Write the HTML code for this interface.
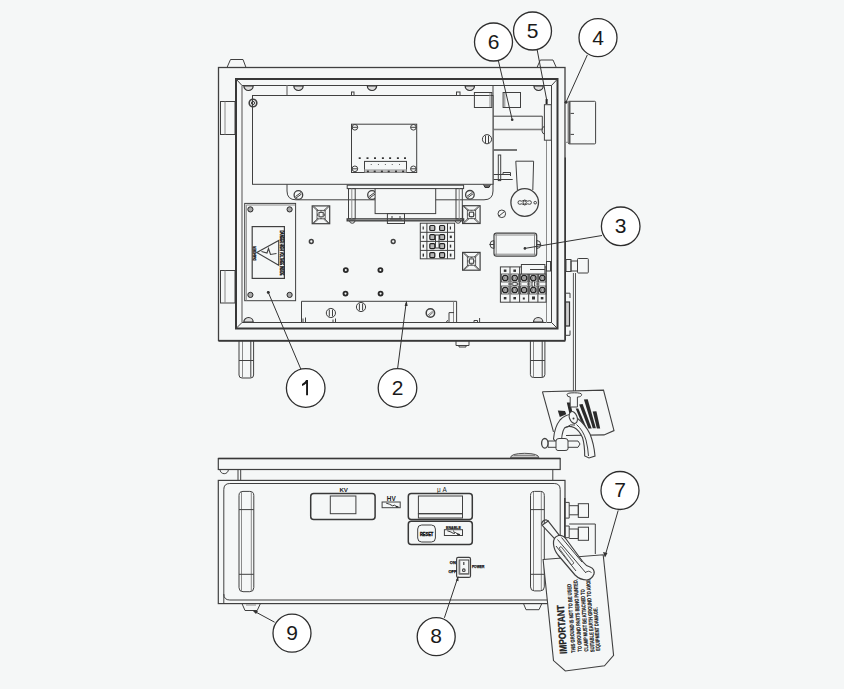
<!DOCTYPE html>
<html><head><meta charset="utf-8">
<style>
html,body{margin:0;padding:0;background:#f5f7f7;width:844px;height:689px;overflow:hidden}
svg{display:block}
.k{fill:none;stroke:#404040;stroke-width:1}
.t{fill:none;stroke:#383838;stroke-width:2}
.g{fill:none;stroke:#8a8a8a;stroke-width:1}
.d{fill:#333}
.cn{fill:#fff;stroke:#2e2e2e;stroke-width:1.3}
.num{font-family:"Liberation Sans",sans-serif;font-size:21px;fill:#1a1a1a;text-anchor:middle}
.sm{font-family:"Liberation Sans",sans-serif;font-weight:bold;fill:#222;text-anchor:middle}
</style></head>
<body>
<svg width="844" height="689" viewBox="0 0 844 689">
<g id="top">
<!-- hinges top -->
<path class="k" d="M227 67.5 L230.5 59.5 L243 59.5 L246 67.5"/>
<path class="k" d="M537 67.5 L540.3 60 L553 60 L556.3 67.5"/>
<!-- outer box -->
<rect class="k" x="218.5" y="67.5" width="346.5" height="273" style="stroke-width:1.3"/>
<!-- left hinges -->
<rect class="k" x="220.5" y="101.5" width="14.5" height="33"/>
<line class="g" x1="225" y1="101.5" x2="225" y2="134.5"/>
<rect class="k" x="220.5" y="270.5" width="14.5" height="32.5"/>
<line class="g" x1="225" y1="270.5" x2="225" y2="303"/>
<!-- inner frame -->
<rect class="t" x="236" y="79" width="321.5" height="249.5"/>
<path class="k" d="M242 85.5 H551.5 V322.5 H242"/><line class="g" x1="242" y1="85.5" x2="242" y2="322.5" style="stroke:#777;stroke-width:1.3"/>
<line class="k" x1="236" y1="79" x2="242" y2="85.5"/>
<line class="k" x1="557.5" y1="79" x2="551.5" y2="85.5"/>
<line class="k" x1="236" y1="328.5" x2="242" y2="322.5"/>
<line class="k" x1="557.5" y1="328.5" x2="551.5" y2="322.5"/>
<!-- legs -->
<path class="k" d="M456 341 V345.5 H469 V341 M459 345.5 V347 H466 V345.5"/>
<path class="k" d="M239 341 V375 Q239 378 242 378 H250.6 Q253.6 378 253.6 375 V341"/>
<line class="g" x1="242.5" y1="341" x2="242.5" y2="377.5"/>
<line class="k" x1="250.8" y1="341" x2="250.8" y2="377.5"/>
<line class="k" x1="239" y1="360.5" x2="253.6" y2="360.5"/>
<path class="k" d="M530.4 341 V374.5 Q530.4 377.5 533.4 377.5 H541.9 Q544.9 377.5 544.9 374.5 V341"/>
<line class="g" x1="533.5" y1="341" x2="533.5" y2="377"/>
<line class="k" x1="542.2" y1="341" x2="542.2" y2="377"/>
<line class="k" x1="530.4" y1="360.5" x2="544.9" y2="360.5"/>
<line class="t" x1="218.5" y1="340.8" x2="565.3" y2="340.8" style="stroke-width:1.8"/>
<!-- back bracket -->
<path class="k" d="M287 95.5 V191 Q287 199.8 296 199.8 H484 Q493 199.8 493 191 V85.5"/><line class="g" x1="287" y1="85.5" x2="287" y2="95.5" style="stroke-width:1.5"/>
<!-- main panel -->
<rect class="k" x="252.5" y="95.5" width="240.5" height="88.8" style="fill:#f5f7f7"/>

<!-- frame screws top -->
<g class="k" style="fill:#ddd;stroke:#333;stroke-width:1.2">
<path d="M243.8 85.8 A4.7 4.7 0 0 0 253.2 85.8Z"/><path d="M293.8 85.8 A4.7 4.7 0 0 0 303.2 85.8Z"/>
<path d="M367.3 85.8 A4.7 4.7 0 0 0 376.7 85.8Z"/><path d="M465.1 85.8 A4.7 4.7 0 0 0 474.5 85.8Z"/>
<path d="M533.9 85.8 A4.7 4.7 0 0 0 543.3 85.8Z"/>
<path d="M243.8 322.2 A4.7 4.7 0 0 1 253.2 322.2Z"/><path d="M533.5 322.2 A4.7 4.7 0 0 1 542.9 322.2Z"/>
</g>
<!-- panel screw top-left -->
<circle class="k" cx="253" cy="103" r="3.8" style="stroke-width:1.6"/><circle class="k" cx="253" cy="103" r="1.6"/>
<!-- small tabs -->
<rect class="k" x="351.5" y="92" width="2.5" height="3.5"/>
<rect class="k" x="456.5" y="92" width="3.5" height="3.5"/>
<!-- PCB -->
<rect class="k" x="351.5" y="124.2" width="65.2" height="48.3"/>
<g class="k">
<circle cx="354.9" cy="127.3" r="2.8"/><circle cx="413.4" cy="127.3" r="2.8"/>
<circle cx="354.9" cy="168.8" r="2.8"/><circle cx="413.4" cy="168.8" r="2.8"/>
<line x1="352.1" y1="127.3" x2="357.7" y2="127.3"/><line x1="410.6" y1="127.3" x2="416.2" y2="127.3"/>
<line x1="352.1" y1="168.8" x2="357.7" y2="168.8"/><line x1="410.6" y1="168.8" x2="416.2" y2="168.8"/>
</g>
<rect class="k" x="364.5" y="161.4" width="42" height="11.1"/>
<rect x="364.5" y="169.2" width="42" height="3.4" style="fill:#b5b5b5"/><rect x="366.9" y="170.6" width="2" height="1.6" style="fill:#333"/><rect x="373.7" y="170.6" width="2" height="1.6" style="fill:#333"/><rect x="380.9" y="170.6" width="2" height="1.6" style="fill:#333"/><rect x="387.7" y="170.6" width="2" height="1.6" style="fill:#333"/><rect x="395" y="170.6" width="2" height="1.6" style="fill:#333"/><rect x="402.1" y="170.6" width="2" height="1.6" style="fill:#333"/>
<g class="d">
<rect x="358.7" y="157.3" width="2" height="1.7"/><rect x="366.5" y="157.3" width="2" height="1.7"/>
<rect x="374.0" y="157.3" width="2" height="1.7"/><rect x="381.9" y="157.3" width="2" height="1.7"/>
<rect x="389.1" y="157.3" width="2" height="1.7"/><rect x="396.9" y="157.3" width="2" height="1.7"/>
<rect x="404.0" y="157.3" width="2" height="1.7"/>
<circle cx="371.2" cy="164.6" r=".5"/><circle cx="378.4" cy="164.6" r=".5"/><circle cx="385.3" cy="164.6" r=".5"/>
<circle cx="392.2" cy="164.6" r=".5"/><circle cx="399.5" cy="164.6" r=".5"/>
</g>
<!-- components top right of panel -->
<rect class="k" x="474.4" y="92.5" width="17.4" height="15"/>
<line class="g" x1="490" y1="93" x2="490" y2="107"/>
<rect class="k" x="503.1" y="92.5" width="17.4" height="15"/>
<line class="g" x1="504.8" y1="93" x2="504.8" y2="107"/>
<!-- component 6 bar -->
<path class="k" d="M493.5 116.2 H542.3 V129.3 H493.5"/>
<line class="g" x1="493.5" y1="129.8" x2="542.3" y2="129.8"/>
<!-- screw right of panel -->
<circle class="k" cx="487" cy="139.2" r="4.6"/>
<line class="k" x1="485.5" y1="135.5" x2="485.5" y2="143"/><line class="k" x1="488.5" y1="135.5" x2="488.5" y2="143"/>
<!-- bracket bits -->
<line class="t" x1="493.7" y1="150" x2="517" y2="150" style="stroke:#555;stroke-width:1.6"/>
<rect class="k" x="498.3" y="155" width="2.4" height="25.6"/>
<path class="k" d="M493.7 174.5 H511 M493.7 179.5 H512.7 M503 174.5 V172.5 H510.5 V176"/>
<!-- fuse holder -->
<path class="k" d="M517.4 190 L515.8 161.2 H533.6 L532.8 190"/>
<circle class="k" cx="524.7" cy="202.5" r="13.8" style="stroke-width:1.3"/>
<path class="k" d="M518 202.5 Q518 200.7 519.8 200.7 L521.8 201.2 Q524.7 198.8 527.6 201.2 L529.6 200.7 Q531.4 200.7 531.4 202.5 Q531.4 204.3 529.6 204.3 L527.6 203.8 Q524.7 206.2 521.8 203.8 L519.8 204.3 Q518 204.3 518 202.5Z"/>
<circle class="k" cx="524.7" cy="202.5" r="1.6"/>
<circle class="k" cx="535.2" cy="202.7" r="1.3"/>
<!-- screws -->
<path class="k" d="M483.5 184.5 L485 187.5 H489 L490.5 184.5" style="fill:#666;stroke:#333"/>
<circle class="k" cx="501.8" cy="213.8" r="3.8"/><line class="k" x1="499" y1="216" x2="504.5" y2="211.5"/>
<circle class="k" cx="298.4" cy="195" r="4.3" style="stroke-width:1.3"/><path class="k" d="M295.5 196.5 L301 192.5 M296 198 L301.5 194"/>
<circle class="k" cx="372" cy="195" r="4.3" style="stroke-width:1.3"/><path class="k" d="M369.1 196.5 L374.6 192.5 M369.6 198 L375.1 194"/>
<circle class="k" cx="469.9" cy="194.8" r="4.3" style="stroke-width:1.3"/><path class="k" d="M467 196.3 L472.5 192.3 M467.5 197.8 L473 193.8"/>
<!-- transformer assembly -->
<rect class="k" x="347.2" y="185.2" width="116.4" height="3.4" style="fill:#f5f7f7"/>
<rect class="k" x="347.2" y="218.9" width="116.4" height="1.9" style="stroke-width:1.4"/>
<rect class="k" x="348.5" y="188.6" width="6.7" height="30.3"/>
<rect class="k" x="456" y="188.6" width="6.3" height="30.3"/>
<line class="g" x1="351.8" y1="188.6" x2="351.8" y2="218.9"/><line class="g" x1="459.2" y1="188.6" x2="459.2" y2="218.9"/>
<path class="k" d="M349.5 221 A2.8 2.8 0 0 0 355 221 M455.3 221 A2.8 2.8 0 0 0 460.8 221"/>
<rect class="k" x="375.1" y="188.6" width="60.6" height="25" style="fill:#f5f7f7"/>
<rect class="k" x="387.4" y="213.6" width="17.1" height="9.9"/>
<path class="k" d="M390 219 H402 M392 216 V219 M400 216 V219"/>
<!-- cable tie squares -->
<g class="k" id="ct">
<rect x="312.2" y="205.9" width="17.5" height="17.8" style="stroke-width:1.2"/>
<rect x="317" y="210.4" width="8.2" height="8.4" style="stroke:#666"/>
<rect x="319" y="212.4" width="4.2" height="4.4"/>
<path d="M312.8 206.5 L317.8 211.2 M313.6 206.2 L318.6 210.6 M329.1 206.5 L324.4 211.2 M328.3 206.2 L323.6 210.6 M312.8 223.1 L317.8 218.4 M313.6 223.4 L318.6 219 M329.1 223.1 L324.4 218.4 M328.3 223.4 L323.6 219" style="stroke-width:.8"/>
<path d="M320 211 H322.2 M320 218.2 H322.2 M317.6 213.5 V216 M324.6 213.5 V216" style="stroke-width:.8"/>
</g>
<use href="#ct" x="150.4" y="-0.2"/>
<use href="#ct" x="150.4" y="46.5"/>
<!-- dots -->
<g class="k">
<circle cx="311.3" cy="241.5" r="1.9" style="stroke-width:1.5"/><circle cx="393.2" cy="241.5" r="1.9" style="stroke-width:1.5"/>
<circle cx="345.8" cy="270.1" r="2" style="stroke-width:1.9;stroke:#2a2a2a"/><circle cx="380.4" cy="270.1" r="2" style="stroke-width:1.9;stroke:#2a2a2a"/>
<circle cx="345.5" cy="293.6" r="2" style="stroke-width:1.9;stroke:#2a2a2a"/><circle cx="380.6" cy="293.6" r="2" style="stroke-width:1.9;stroke:#2a2a2a"/>
</g>
<!-- terminal block 1 -->
<rect class="k" x="420.3" y="223.2" width="34.3" height="35.6"/>
<g class="k">
<line x1="420.3" y1="232.3" x2="454.6" y2="232.3"/><line x1="420.3" y1="241.4" x2="454.6" y2="241.4"/><line x1="420.3" y1="250.4" x2="454.6" y2="250.4"/>
<line x1="426.9" y1="223.2" x2="426.9" y2="258.8"/><line x1="447.5" y1="223.2" x2="447.5" y2="258.8"/>
</g>
<g fill="#b8b8b8" stroke="#222" stroke-width="1.2">
<rect x="429.8" y="225.5" width="5" height="5" rx="1"/><rect x="439.6" y="225.5" width="5" height="5" rx="1"/>
<rect x="429.8" y="234.6" width="5" height="5" rx="1"/><rect x="439.6" y="234.6" width="5" height="5" rx="1"/>
<rect x="429.8" y="243.6" width="5" height="5" rx="1"/><rect x="439.6" y="243.6" width="5" height="5" rx="1"/>
<rect x="429.8" y="252.6" width="5" height="5" rx="1"/><rect x="439.6" y="252.6" width="5" height="5" rx="1"/>
</g>
<g class="d">
<rect x="422.6" y="226.5" width="1.2" height="3"/><rect x="449.8" y="226.5" width="1.2" height="3"/>
<rect x="422.6" y="235.6" width="1.4" height="3"/><rect x="449.8" y="235.6" width="2" height="2.5"/>
<rect x="422.6" y="244.6" width="1.4" height="3"/><rect x="449.8" y="244.6" width="1.4" height="3"/>
<rect x="422.6" y="253.6" width="1.4" height="3"/><rect x="449.8" y="253.6" width="1.6" height="3"/>
</g>
<rect class="k" x="435.5" y="235" width="3.5" height="13"/>
<!-- warning plate -->
<rect class="k" x="244.7" y="203.4" width="50.9" height="97.3"/>
<path class="g" d="M246.3 300.5 V205 H295.3"/>
<g fill="#a8a8a8" stroke="#2a2a2a" stroke-width="1">
<circle cx="250.4" cy="209.4" r="2.6"/><circle cx="289.6" cy="209.4" r="2.6"/>
<circle cx="250.4" cy="294.9" r="2.6"/><circle cx="289.6" cy="294.9" r="2.6"/>
</g>
<rect class="k" x="252.2" y="226.6" width="32.2" height="51.8" style="stroke-width:1.2"/>
<path class="k" d="M256.8 252.5 L278.7 240.5 V265.3 Z" style="stroke-width:1.1"/>
<path class="k" d="M261.5 251.5 L267 253 L268.5 248.5 L270.5 254.5 L276.5 253.5" style="stroke-width:1.1"/>
<text transform="translate(280.3 230.5) rotate(90)" style="font-family:'Liberation Sans',sans-serif;font-weight:bold;font-size:4.8px;fill:#111;stroke:#111;stroke-width:.35" textLength="45" lengthAdjust="spacingAndGlyphs">DANGER HIGH VOLTAGE INSIDE</text>
<text transform="translate(256.3 260.5) rotate(-90)" style="font-family:'Liberation Sans',sans-serif;font-weight:bold;font-size:4.2px;fill:#111;stroke:#111;stroke-width:.3" textLength="14.5" lengthAdjust="spacingAndGlyphs">DANGER</text>
<circle class="d" cx="268.3" cy="292.5" r="1.3"/>
<!-- bottom bar component 2 -->
<path class="k" d="M301.5 322.5 V301.3 H456.6 V322.5"/>
<line class="g" x1="453.5" y1="301.5" x2="453.5" y2="322"/>
<path class="k" d="M449 322.5 V312.6 H454"/><path class="k" d="M446.5 322.5 Q446.5 320.5 448 320.5 M474 322.5 V320.5 H477.5 V322.5 M479.6 318 V322.5"/>
<circle class="k" cx="330.9" cy="313" r="4.6"/><path class="k" d="M329.3 309.5 V316.5 M332.5 309.5 V316.5"/>
<circle class="k" cx="361" cy="307" r="4.6"/><path class="k" d="M359.4 303.5 V310.5 M362.6 303.5 V310.5"/>
<circle class="k" cx="430.4" cy="313" r="4.2" style="stroke-width:1.5"/><path class="k" d="M428 315 L432.8 311 M428.8 316 L433.5 312" style="stroke:#777"/>
<path class="k" d="M303 322 V318.5 M305.5 322 V317.5 M333 322 V319.5 M335.5 322 V318.5"/>
<!-- fuse component 3 -->
<rect class="k" x="494" y="233.1" width="42.7" height="23" rx="2.5" style="stroke-width:1.2"/>
<line class="g" x1="496.2" y1="233.5" x2="496.2" y2="255.7"/><line class="g" x1="534.5" y1="233.5" x2="534.5" y2="255.7"/>
<line class="g" x1="495" y1="235" x2="535.7" y2="235"/><line class="g" x1="495" y1="254.2" x2="535.7" y2="254.2"/>
<path class="k" d="M494 240.5 A4 4 0 0 0 494 248.5 Z M489.5 244.5 H494"/>
<path class="k" d="M536.7 240.5 A4 4 0 0 1 536.7 248.5 Z M536.7 244.5 H541"/>
<!-- right inner verticals -->
<line class="g" x1="546.5" y1="140" x2="546.5" y2="323"/>
<line class="k" x1="551.5" y1="85.5" x2="551.5" y2="322.5"/>
<!-- component 5 -->
<rect class="k" x="544.4" y="104.7" width="6.9" height="35.5" style="fill:#f5f7f7"/>
<rect x="545.6" y="99" width="2" height="5" style="fill:#222"/>
<path class="k" d="M544.4 126 Q541.5 128 542 131 Q542.5 134 544.4 134"/>
<!-- terminal block 2 -->
<rect class="k" x="500.4" y="266.9" width="45.6" height="35.3"/>
<g class="k">
<line x1="510" y1="266.9" x2="510" y2="302.2"/><line x1="519.6" y1="266.9" x2="519.6" y2="302.2"/>
<line x1="528.7" y1="266.9" x2="528.7" y2="302.2"/><line x1="537.9" y1="266.9" x2="537.9" y2="302.2"/>
</g>
<g fill="#dcdcdc" stroke="#222" stroke-width="1.3">
<circle cx="505.2" cy="278" r="2.7"/><circle cx="514.7" cy="278" r="2.7"/><circle cx="524.1" cy="278" r="2.7"/><circle cx="533.3" cy="278" r="2.7"/><circle cx="542.3" cy="278" r="2.7"/><circle cx="505.2" cy="290" r="2.7"/><circle cx="514.7" cy="290" r="2.7"/><circle cx="524.1" cy="290" r="2.7"/><circle cx="533.3" cy="290" r="2.7"/><circle cx="542.3" cy="290" r="2.7"/>
</g>
<g fill="none" stroke="#555" stroke-width=".7"><circle cx="505.2" cy="278" r="1.2"/><circle cx="514.7" cy="278" r="1.2"/><circle cx="524.1" cy="278" r="1.2"/><circle cx="533.3" cy="278" r="1.2"/><circle cx="542.3" cy="278" r="1.2"/><circle cx="505.2" cy="290" r="1.2"/><circle cx="514.7" cy="290" r="1.2"/><circle cx="524.1" cy="290" r="1.2"/><circle cx="533.3" cy="290" r="1.2"/><circle cx="542.3" cy="290" r="1.2"/></g>
<g fill="none" stroke="#444" stroke-width=".8"><rect x="501.5" y="274" width="7.4" height="8"/><rect x="511.00000000000006" y="274" width="7.4" height="8"/><rect x="520.4" y="274" width="7.4" height="8"/><rect x="529.5999999999999" y="274" width="7.4" height="8"/><rect x="538.5999999999999" y="274" width="7.4" height="8"/><rect x="501.5" y="286" width="7.4" height="8"/><rect x="511.00000000000006" y="286" width="7.4" height="8"/><rect x="520.4" y="286" width="7.4" height="8"/><rect x="529.5999999999999" y="286" width="7.4" height="8"/><rect x="538.5999999999999" y="286" width="7.4" height="8"/></g>
<g class="d">
<rect x="503.8" y="269.5" width="2.6" height="2.4"/><rect x="513.4" y="269.5" width="2.6" height="2.4"/>
<rect x="503.8" y="297" width="2.6" height="2.4"/><rect x="513.4" y="297" width="2.6" height="2.4"/>
<rect x="522.8" y="297.5" width="2" height="2"/><rect x="532" y="296.5" width="3" height="3"/><rect x="540.8" y="297" width="2.6" height="2.4"/>
</g>
<path class="k" d="M508 284 H512 M517.5 284 H521.5 M527 284 H530.5 M536 284 H539.5"/><ellipse class="k" cx="514.7" cy="284" rx="3" ry="1.5" style="fill:#f5f7f7"/><ellipse class="k" cx="533.3" cy="284" rx="1.4" ry="3" style="fill:#f5f7f7"/>
<rect class="k" x="521.4" y="264.5" width="23.5" height="9.5" style="fill:#f5f7f7"/>
<line class="k" x1="530" y1="269.5" x2="544.9" y2="269.5"/>
<rect class="k" x="546.5" y="261.5" width="4" height="9.5"/>
<!-- right exterior component 4 -->
<rect class="k" x="568.3" y="101.3" width="27.3" height="42.6" rx="1"/>
<rect x="568.3" y="101.3" width="2.2" height="42.6" fill="#555"/>
<path class="k" d="M570.5 113.4 H574 M570.5 134.4 H574"/>
<rect class="g" x="565.5" y="101.3" width="2.8" height="41"/>
<circle class="d" cx="566" cy="102.2" r="1.2"/>
<line class="t" x1="565.3" y1="157.5" x2="565.3" y2="340" style="stroke-width:1.4"/>
<!-- right fitting and tube -->
<rect class="k" x="566" y="259.5" width="5" height="12" />
<rect class="k" x="571" y="261" width="6.5" height="10" />
<rect class="k" x="577.5" y="258.5" width="10.8" height="14.5" rx="0.8"/>
<path class="k" d="M573.4 273 V391 M575.5 273 V391" style="stroke:#555"/>
<path class="k" d="M565.3 293.2 H570 V298 M565.3 335.3 H570 V330.5"/>
<rect class="k" x="565.5" y="302" width="4" height="24" style="fill:#d0d0d0;stroke:#333;stroke-width:1.2"/>
</g>

<g id="front">
<!-- top plate -->
<path class="k" d="M510.5 457.8 Q510.5 453.5 524.7 453.3 Q538.9 453.5 538.9 457.8Z" style="fill:#c8c8c8;stroke:#555"/>
<line class="k" x1="514" y1="455.5" x2="535" y2="455.5" style="stroke:#888"/>
<rect class="k" x="218.3" y="458.5" width="341.9" height="11" style="stroke-width:1.2"/>
<line class="t" x1="218.3" y1="458.5" x2="560.2" y2="458.5" style="stroke-width:1.5"/>
<path class="k" d="M220 469.5 A4.2 4.2 0 0 0 228.4 469.5"/>
<path class="k" d="M238 469.5 V480.4 M240.7 469.5 V480.4"/>
<path class="k" d="M552.8 469.5 V480.4"/>
<!-- body -->
<rect class="k" x="218.3" y="480.4" width="346.7" height="123.2" style="stroke-width:1.2"/>
<path class="k" d="M223.8 603.6 V489.5 Q223.8 483.5 229.8 483.5 H554.2 Q560.2 483.5 560.2 489.5 V594 Q560.2 600 554.2 600 H229.8 Q223.8 600 223.8 594"/>
<line class="t" x1="564.8" y1="498" x2="564.8" y2="560" style="stroke-width:1.4"/>
<!-- handles -->
<path class="k" d="M239 495.5 Q239 491.4 243 491.4 H249.8 Q253.8 491.4 253.8 495.5 V587.7 Q253.8 591.7 249.8 591.7 H243 Q239 591.7 239 587.7 Z"/>
<path class="g" d="M241.5 492 V591 M251.3 492 V591"/>
<path class="k" d="M239 509.6 H253.8 M239 574.3 H253.8"/>
<path class="k" d="M530.5 495.5 Q530.5 491.4 534.5 491.4 H540.3 Q544.3 491.4 544.3 495.5 V586.9 Q544.3 590.9 540.3 590.9 H534.5 Q530.5 590.9 530.5 586.9 Z"/>
<path class="g" d="M533.5 492 V590 M541.3 492 V590"/>
<path class="k" d="M530.5 509.6 H544.3 M530.5 574.3 H544.3"/>
<!-- feet -->
<path class="k" d="M242 603.6 L245 610.5 H257.2 L260.4 603.6"/>
<line class="g" x1="246" y1="605" x2="256" y2="605"/>
<path class="k" d="M523.5 603.6 L526 609.7 H539 L541.8 603.6"/>
<!-- KV display -->
<rect class="t" x="310.7" y="493.5" width="64.4" height="26" rx="3" style="stroke-width:1.5"/>
<rect class="k" x="330.3" y="496" width="25.6" height="17.7"/>
<text class="sm" x="343.7" y="491.6" style="font-size:6.2px">KV</text>
<!-- HV -->
<text class="sm" x="391.3" y="501.2" style="font-size:6.4px">HV</text>
<rect class="k" x="382.1" y="502" width="18.1" height="5.7"/>
<path class="k" d="M386.2 503.2 L389.5 504.2 L392.5 505.8 L394.5 505.2 L396.5 506.6 L398.5 506.9" style="stroke-width:.9;stroke:#222"/><path d="M395.8 505.6 L398.8 507.2 L396.2 507.4Z" style="fill:#222"/>
<!-- uA -->
<rect class="t" x="408.3" y="493.5" width="64" height="26" rx="3" style="stroke-width:1.5"/>
<rect class="k" x="418.4" y="496" width="44.1" height="17.7"/>
<rect class="k" x="418.4" y="513.7" width="44.1" height="4.3"/>
<text class="sm" x="441.8" y="491.6" style="font-size:6.4px;font-weight:normal">μ A</text>
<!-- reset box -->
<rect class="t" x="408.3" y="521.2" width="64" height="23.4" rx="3" style="stroke-width:1.5"/>
<rect class="k" x="417.7" y="525" width="17.7" height="17" rx="4"/>
<text class="sm" x="426.6" y="535.6" style="font-size:4.8px;fill:#111;stroke:#111;stroke-width:.4" textLength="13.4" lengthAdjust="spacingAndGlyphs">RESET</text>
<rect class="k" x="444.4" y="529.7" width="18.1" height="5.8"/>
<text class="sm" x="453.5" y="528.8" style="font-size:3.6px;fill:#111;stroke:#111;stroke-width:.2">ENABLE</text>
<path class="k" d="M447.3 530.8 L451 532 L453.5 533.5 L455.5 532.5 L457.5 534 L460 534.5" style="stroke-width:.9;stroke:#222"/><path d="M453.5 530.5 L454.5 533.5" style="stroke:#222;stroke-width:.8"/><path d="M457 533 L460.2 534.7 L457.5 535Z" style="fill:#222"/>
<!-- power switch -->
<rect class="k" x="456.6" y="557.4" width="13.9" height="20" rx="1.5" style="stroke-width:1.2"/>
<rect class="k" x="459.2" y="560" width="9.6" height="14"/><path class="k" d="M459.6 560.5 V573.6 H468.5" style="stroke:#777;stroke-width:1.4"/>
<line class="k" x1="463.8" y1="562" x2="463.8" y2="565" style="stroke-width:1.2"/>
<circle class="k" cx="463.8" cy="570.2" r="1.3" style="stroke-width:1.1"/>
<text class="sm" x="452.8" y="563.8" style="font-size:4px;fill:#111;stroke:#111;stroke-width:.25">ON</text>
<text class="sm" x="452.4" y="572.8" style="font-size:4px;fill:#111;stroke:#111;stroke-width:.25">OFF</text>
<text x="471.9" y="568.2" style="font-family:'Liberation Sans',sans-serif;font-weight:bold;font-size:4.2px;fill:#111;stroke:#111;stroke-width:.25" textLength="12.4" lengthAdjust="spacingAndGlyphs">POWER</text>
<!-- right fittings -->
<path class="k" d="M565.3 502.4 H569.2 V518.1 H565.3 M569.2 505.7 H578.3 V514.8 H569.2"/>
<rect class="k" x="578.3" y="503.7" width="10.2" height="13.7"/>
<path class="k" d="M569.2 524 H595.3 V554 M565.3 526 H569.2 V537.7 H565.3 M569.2 529 H578.3 V538.5 H569.2"/>
<rect class="k" x="578.3" y="527.2" width="10.2" height="13.1"/>
</g>
<g id="callouts">

<g id="leaders" class="k" style="stroke:#333;stroke-width:1">
<line x1="498.4" y1="60.8" x2="512.2" y2="119.7"/>
<line x1="537.2" y1="50" x2="546.8" y2="100.5"/>
<line x1="587.3" y1="55" x2="566" y2="102.2"/>
<line x1="524.9" y1="248.4" x2="602" y2="235.5"/>
<line x1="268.2" y1="292.2" x2="300.8" y2="369"/>
<line x1="406.2" y1="302.7" x2="397.6" y2="368.6"/>
<line x1="618.2" y1="510.4" x2="605" y2="556.2"/>
<line x1="274.6" y1="622.2" x2="254.6" y2="611.4"/>
<line x1="444.4" y1="617.8" x2="458" y2="576.9"/>
</g>
<g class="d">
<circle cx="512.2" cy="119.7" r="1.3"/><circle cx="566" cy="102.2" r="1.3"/><circle cx="524.9" cy="248.4" r="1.3"/>
<circle cx="268.2" cy="292.2" r="1.3"/>
<path d="M406.6 300.5 L404.6 306 L407.6 306Z"/>
<path d="M605 557.5 L603 552 L607.5 553Z"/>
<path d="M252.5 610.5 L258 611 L256 614Z"/>
<path d="M458.3 576 L455.8 580.5 L458.5 581.3Z"/>
</g>
<!-- upper tag with clamp -->
<g id="tag1">
<path class="k" d="M542.4 391.7 L603.5 390.1 L614 430.6 L604 434.9 L566 435.5 M542.4 391.7 L553.5 431.8" style="stroke-width:1.1"/>
<g style="fill:#2a2a2a">
<path d="M557.8 410.6 L565 410.9 L566.3 414.2 L559.8 417.1Z"/>
<path d="M566.8 402.4 L570.3 402.4 L572.8 414 L569.5 414Z"/>
<path d="M575.7 408.6 L578.3 408.6 L586.8 428.5 L583.9 428.5Z"/>
<path d="M579.2 404.4 L582.6 404.1 L591.7 428.5 L588.4 428.5Z"/>
<path d="M583.9 399.5 L587.7 399.2 L595.9 428.2 L592.8 428.2Z"/>
<path d="M592.7 411.5 L596.4 411.2 L600.2 428.5 L596.9 428.5Z"/>
</g>
<path class="k" d="M567 394.5 Q567 392.8 574.3 392.8 Q581.6 392.8 581.6 394.5 Q581.6 397 577.4 397 V407 H570.2 V397 Q567 397 567 394.5Z" style="fill:#f5f7f7"/>
<path class="k" d="M553.5 439 Q554.5 427 560 420 Q565 415 571 414.3 L577 418 Q585 424 590 434 Q594 444 595 456 L589 458 L584.7 456 Q584.7 445 582.5 437.5 Q579 430 574 427.5 Q568 425 564.5 428 Q561 433 561.5 448 Z" style="fill:#f5f7f7;stroke-width:1.1"/>
<path class="k" d="M576.5 424.5 Q583 430 586 440 Q588 448 588.5 456"/>
<path class="k" d="M566.5 427.5 Q570 423.5 575 425"/>
<ellipse class="k" cx="573.3" cy="417.5" rx="3.8" ry="6.2" transform="rotate(-20 573.3 417.5)" style="fill:#f5f7f7;stroke-width:1.1"/>
<circle class="d" cx="573.5" cy="418.5" r="1"/>
<path class="k" d="M548 441 H578 L580 444 L578 447.3 H548Z" style="fill:#f5f7f7"/>
<ellipse class="k" cx="544.8" cy="443.3" rx="3.2" ry="4.8" style="fill:#f5f7f7;stroke-width:1.3"/>
<path class="k" d="M556 441 Q556 438.5 559 438.5 H565 Q568 438.5 568 441 V449 Q568 450.5 565 450.5 H558 Q556 450.5 556 448.5Z" style="fill:#f5f7f7"/>
</g>
<!-- important tag -->
<g id="tag2">
<path class="k" d="M543.1 559.5 L603.2 554.8 L613.6 655.4 L604.5 665.8 L565.3 671 L553.5 660.6 Z" style="fill:#f5f7f7;stroke-width:1.1"/>
<g style="font-family:'Liberation Sans',sans-serif;font-weight:bold;fill:#222">
<text transform="translate(566.9 653.8) rotate(-93.5)" style="font-size:10.2px;stroke:#222;stroke-width:.3" textLength="49" lengthAdjust="spacingAndGlyphs">IMPORTANT</text>
<text transform="translate(575.3 652.8) rotate(-93.5)" style="font-size:5.6px;stroke:#222;stroke-width:.2" textLength="69" lengthAdjust="spacingAndGlyphs">THIS GROUND IS NOT TO BE USED</text>
<text transform="translate(581.8 651.4) rotate(-93.5)" style="font-size:5.6px;stroke:#222;stroke-width:.2" textLength="72.5" lengthAdjust="spacingAndGlyphs">TO GROUND PARTS BEING PAINTED.</text>
<text transform="translate(588.3 651.4) rotate(-93.5)" style="font-size:5.6px;stroke:#222;stroke-width:.2" textLength="62.3" lengthAdjust="spacingAndGlyphs">CLAMP MUST BE ATTACHED TO</text>
<text transform="translate(594.5 652) rotate(-93.5)" style="font-size:5.6px;stroke:#222;stroke-width:.2" textLength="74.5" lengthAdjust="spacingAndGlyphs">SUITABLE EARTH GROUND TO AVOID</text>
<text transform="translate(600 650.7) rotate(-93.5)" style="font-size:5.6px;stroke:#222;stroke-width:.2" textLength="43.6" lengthAdjust="spacingAndGlyphs">EQUIPMENT DAMAGE.</text>
</g>
<!-- clamp on front -->
<path class="k" d="M542 525.2 L548.2 521.1 L559.3 535.3 L555.3 539.4Z" style="fill:#f5f7f7;stroke-width:1.1"/>
<path class="k" d="M541.5 524.5 Q542 520 546 519.8 L548.7 521.3" style="stroke-width:1.2"/>
<path class="k" d="M553.5 544 Q553 537 558.5 535.5 Q563 535 566 539 L583 562 Q586 566 590 567 Q595 569 594 574 Q592 579 587 580 Q580 580 575 575 L558 555 Q554 550 553.5 544Z" style="fill:#f5f7f7;stroke-width:1.2"/>
<path class="k" d="M557.5 539.5 L586 573 M561.5 537.5 L582 562 M556 546 L576 571"/>
<path class="k" d="M559 548 L561 546.5 L574 563 L571.5 565Z" style="stroke:#666"/>
<path class="k" d="M586 572 Q589 570 591.5 572.5" style="stroke:#555"/>
</g>
<circle class="cn" cx="305.7" cy="388" r="19.3"/><path d="M306.1 380.1 H308 V395.2 H306.1 V383.5 Q304.4 385.1 302 386 V384.1 Q305 382.6 306.1 380.1Z" style="fill:#1a1a1a"/>
<circle class="cn" cx="397.5" cy="388" r="19.3"/><text class="num" x="397.5" y="395.3">2</text>
<circle class="cn" cx="620.7" cy="226.3" r="19.3"/><text class="num" x="620.7" y="232.9">3</text>
<circle class="cn" cx="493.5" cy="42" r="19"/><text class="num" x="493.5" y="48.8">6</text>
<circle class="cn" cx="532.5" cy="31" r="19"/><text class="num" x="532.5" y="37.8">5</text>
<circle class="cn" cx="598" cy="37.7" r="19"/><text class="num" x="598" y="44.5">4</text>
<circle class="cn" cx="620" cy="490.5" r="19"/><text class="num" x="620" y="497.3">7</text>
<circle class="cn" cx="292" cy="633.2" r="19"/><text class="num" x="292" y="640.0">9</text>
<circle class="cn" cx="436.2" cy="636.7" r="19"/><text class="num" x="436.2" y="643.1">8</text>
</g>
</svg>
</body></html>
